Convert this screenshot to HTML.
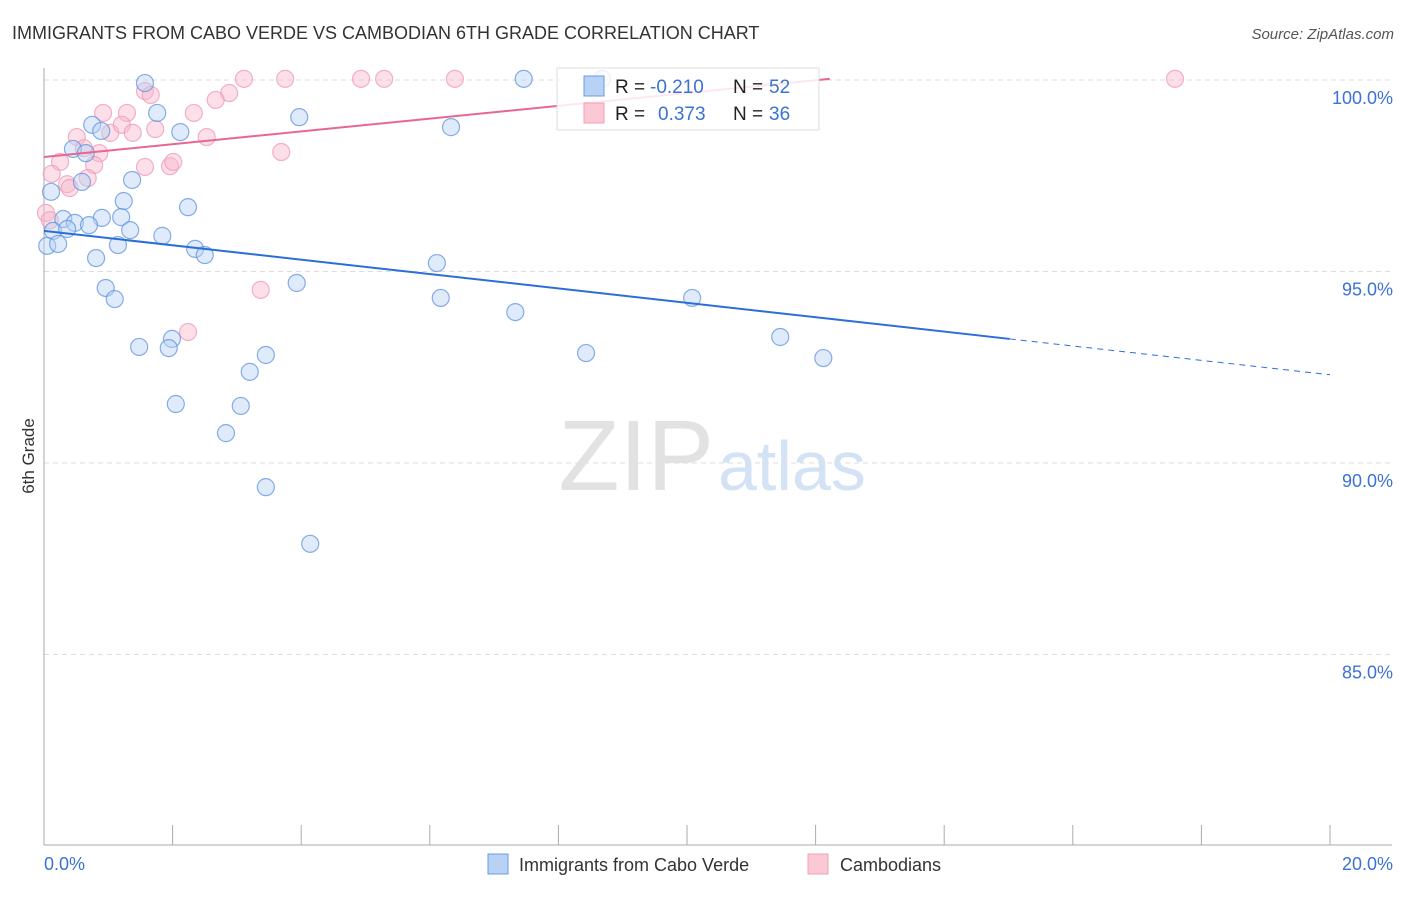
<!DOCTYPE html>
<html><head><meta charset="utf-8"><style>
body{margin:0;background:#fff;font-family:"Liberation Sans",sans-serif;}
svg text{font-family:"Liberation Sans",sans-serif;}
</style></head><body>
<svg id="chart" width="1406" height="892">
<text x="12" y="39" font-size="18" fill="#333">IMMIGRANTS FROM CABO VERDE VS CAMBODIAN 6TH GRADE CORRELATION CHART</text>
<text x="1394" y="39" font-size="15" fill="#555" font-style="italic" text-anchor="end">Source: ZipAtlas.com</text>
<text x="34" y="456" font-size="17" fill="#333" transform="rotate(-90 34 456)" text-anchor="middle">6th Grade</text>
<g id="grid"></g>
<text x="714" y="490" font-size="100" fill="#e2e2e2" text-anchor="end" font-family="Liberation Serif">ZIP</text>
<text x="718" y="490" font-size="70" fill="#d3e2f5">atlas</text>
<g id="pts"></g>
<g id="lines"></g>
<g>
<rect x="557" y="68" width="262" height="62" fill="#fff" fill-opacity="0.85" stroke="#ddd"/>
<rect x="584" y="76" width="20" height="20" fill="#b8d2f5" stroke="#6a9be0"/>
<rect x="584" y="103" width="20" height="20" fill="#fbc8d6" stroke="#f0a0b8"/>
<text x="615" y="93" font-size="19" fill="#222">R = </text><text x="650" y="93" font-size="19" fill="#3a72d6">-0.210</text>
<text x="733" y="93" font-size="19" fill="#222">N = </text><text x="769" y="93" font-size="19" fill="#3a72d6">52</text>
<text x="615" y="120" font-size="19" fill="#222">R = </text><text x="658" y="120" font-size="19" fill="#3a72d6">0.373</text>
<text x="733" y="120" font-size="19" fill="#222">N = </text><text x="769" y="120" font-size="19" fill="#3a72d6">36</text>
</g>
<g>
<rect x="488" y="854" width="20" height="20" fill="#b8d2f5" stroke="#6a9be0"/>
<text x="519" y="871" font-size="18" fill="#333">Immigrants from Cabo Verde</text>
<rect x="808" y="854" width="20" height="20" fill="#fbc8d6" stroke="#f0a0b8"/>
<text x="840" y="871" font-size="18" fill="#333">Cambodians</text>
</g>
</svg>
<script>
const xTicks=[0,2,4,6,8,10,12,14,16,18,20];
const yTicks=[100,95,90,85];
const yTickLabels=["100.0%","95.0%","90.0%","85.0%"];
const xEndLabels=["0.0%","20.0%"];
const blueX=[1.57,7.46,8.68,1.76,3.97,6.33,0.75,0.89,2.12,0.45,0.65,1.37,0.59,0.11,1.24,2.24,0.90,1.20,0.30,0.48,0.70,1.34,0.14,0.36,1.84,0.05,0.22,1.15,2.35,2.50,0.81,6.11,3.93,0.96,1.10,6.17,10.08,7.33,11.45,1.99,1.48,1.94,3.45,8.43,12.12,3.20,2.05,3.06,2.83,3.45,4.14];
const blueY=[99.92,100.03,100.03,99.14,99.03,98.77,98.83,98.67,98.64,98.20,98.09,97.39,97.34,97.08,96.84,96.68,96.40,96.42,96.37,96.27,96.21,96.08,96.06,96.11,95.93,95.67,95.72,95.69,95.59,95.43,95.35,95.22,94.70,94.57,94.28,94.31,94.31,93.94,93.29,93.24,93.03,93.00,92.82,92.87,92.74,92.38,91.54,91.49,90.78,89.37,87.89];
const pinkX=[1.57,1.66,3.11,3.75,4.93,5.29,6.39,17.59,2.88,2.67,0.92,1.29,2.33,0.51,1.03,1.21,1.38,1.73,2.53,0.62,0.86,3.69,0.25,0.78,1.57,1.96,2.01,0.68,0.12,0.36,0.40,0.03,0.09,3.37,2.24];
const pinkY=[99.71,99.61,100.03,100.03,100.03,100.03,100.03,100.03,99.66,99.48,99.14,99.14,99.14,98.51,98.62,98.83,98.62,98.72,98.51,98.22,98.09,98.12,97.86,97.78,97.73,97.75,97.86,97.44,97.55,97.28,97.18,96.53,96.34,94.52,93.42];
const blueTrend=[96.06,-0.1878];
const pinkTrend=[97.99,0.167];
const blueSolidEnd=15.02, pinkEnd=12.22;
const NS="http://www.w3.org/2000/svg";
const sx=v=>44+v*64.3, sy=v=>80+(100-v)*38.3;
function mk(tag,attrs,parent){const e=document.createElementNS(NS,tag);for(const k in attrs)e.setAttribute(k,attrs[k]);parent.appendChild(e);return e;}
const grid=document.getElementById('grid');
yTicks.forEach((t,i)=>{
 const l=mk('line',{x1:44,x2:1392,y1:sy(t),y2:sy(t),stroke:'#ddd','stroke-dasharray':'5,4'},grid);
 
 
 const tx=mk('text',{x:1393,y:sy(t)+24,'font-size':18,fill:'#3a72d6','text-anchor':'end'},grid);
 tx.textContent=yTickLabels[i];
 
 
});
const ax=mk('line',{x1:44,x2:44,y1:68,y2:845,stroke:'#aaa'},grid);


const bx=mk('line',{x1:44,x2:1392,y1:845,y2:845,stroke:'#aaa'},grid);


xTicks.forEach(t=>{
 const l=mk('line',{x1:sx(t),x2:sx(t),y1:825,y2:845,stroke:'#aaa'},grid);
 
 
});
[[0,'start',xEndLabels[0]],[20,'end',xEndLabels[1]]].forEach(([v,a,s])=>{
 const tx=mk('text',{x:sx(v)+(a==='start'?0:63),y:870,'font-size':18,fill:'#3a72d6','text-anchor':a},grid);
 tx.textContent=s;
 
 
});
const pts=document.getElementById('pts');
function drawPts(X,Y,fill,stroke,name){X.forEach((x,i)=>{
 const c=mk('circle',{cx:sx(x),cy:sy(Y[i]),r:8.5,fill:fill,'fill-opacity':0.45,stroke:stroke,'stroke-opacity':0.75,'stroke-width':1.2},pts);
 
 
});}
drawPts(pinkX,pinkY,'#f8b8cb','#ee9ab4','cambodian-point');
drawPts(blueX,blueY,'#b8d2f5','#5f93de','cabo-verde-point');
const lines=document.getElementById('lines');
const f=(t,x)=>t[0]+t[1]*x;
let l1=mk('line',{x1:sx(0),y1:sy(f(blueTrend,0)),x2:sx(blueSolidEnd),y2:sy(f(blueTrend,blueSolidEnd)),stroke:'#2a6fd8','stroke-width':2},lines);


let l2=mk('line',{x1:sx(blueSolidEnd),y1:sy(f(blueTrend,blueSolidEnd)),x2:sx(20),y2:sy(f(blueTrend,20)),stroke:'#2a6fd8','stroke-width':1,'stroke-dasharray':'6,5'},lines);


let l3=mk('line',{x1:sx(0),y1:sy(f(pinkTrend,0)),x2:sx(pinkEnd),y2:sy(f(pinkTrend,pinkEnd)),stroke:'#e8668f','stroke-width':2},lines);


</script>
</body></html>
